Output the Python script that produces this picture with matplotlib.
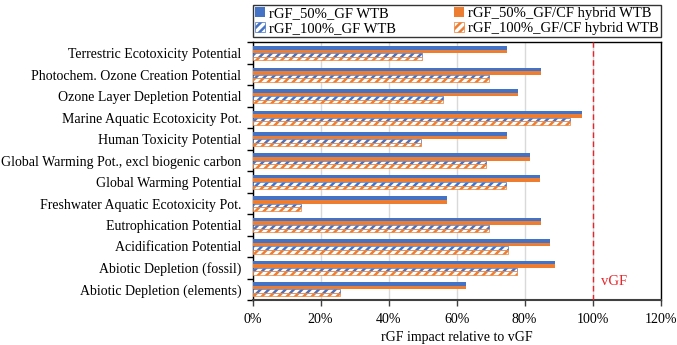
import numpy as np
import matplotlib.pyplot as plt

# impact categories, top to bottom as in the chart
categories = [
    'Terrestric Ecotoxicity Potential',
    'Photochem. Ozone Creation Potential',
    'Ozone Layer Depletion Potential',
    'Marine Aquatic Ecotoxicity Pot.',
    'Human Toxicity Potential',
    'Global Warming Pot., excl biogenic carbon',
    'Global Warming Potential',
    'Freshwater Aquatic Ecotoxicity Pot.',
    'Eutrophication Potential',
    'Acidification Potential',
    'Abiotic Depletion (fossil)',
    'Abiotic Depletion (elements)',
]

# rGF impact relative to vGF (%)
gf_50 = [74.8, 84.9, 78.0, 96.8, 74.8, 81.5, 84.4, 57.1, 84.9, 87.5, 89.0, 62.8]
hybrid_50 = [74.8, 84.9, 78.0, 96.8, 74.8, 81.5, 84.4, 57.1, 84.9, 87.5, 89.0, 62.8]
gf_100 = [49.8, 69.6, 56.0, 93.4, 49.5, 68.6, 74.6, 14.3, 69.6, 75.1, 77.8, 25.7]
hybrid_100 = [49.8, 69.6, 56.0, 93.4, 49.5, 68.6, 74.6, 14.3, 69.6, 75.1, 77.8, 25.7]

series_names = ['rGF_50%_GF WTB', 'rGF_50%_GF/CF hybrid WTB',
                'rGF_100%_GF WTB', 'rGF_100%_GF/CF hybrid WTB']

BLUE = '#4472C4'
ORANGE = '#ED7D31'
RED = '#E8252A'

plt.rcParams['font.family'] = ['Liberation Serif', 'DejaVu Serif']
plt.rcParams['hatch.linewidth'] = 1.8

fig = plt.figure(figsize=(6.77, 3.45), dpi=100)
ax = fig.add_axes([0.373, 0.130, 0.603, 0.747])

y = np.arange(len(categories))
h = 0.165
offsets = [-1.5 * h, -0.5 * h, 0.5 * h, 1.5 * h]

b1 = ax.barh(y + offsets[0], np.array(gf_50) / 100, height=h, color=BLUE,
             label=series_names[0], zorder=3)
b2 = ax.barh(y + offsets[1], np.array(hybrid_50) / 100, height=h, color=ORANGE,
             label=series_names[1], zorder=3)
b3 = ax.barh(y + offsets[2], np.array(gf_100) / 100, height=h, facecolor='white',
             edgecolor=BLUE, hatch='////', linewidth=0.5,
             label=series_names[2], zorder=3)
b4 = ax.barh(y + offsets[3], np.array(hybrid_100) / 100, height=h, facecolor='white',
             edgecolor=ORANGE, hatch='////', linewidth=0.5,
             label=series_names[3], zorder=3)

# vGF reference line
ax.axvline(1.0, color=RED, linestyle=(0, (4, 2.5)), linewidth=1.0, zorder=4)
ax.text(1.025, 10.65, 'vGF', color=RED, fontsize=10.5, va='center', ha='left')

ax.set_xlim(0, 1.2)
ax.set_ylim(len(categories) - 0.5, -0.5)
ax.set_xticks(np.arange(0, 1.21, 0.2))
ax.set_xticklabels([f'{int(round(v * 100))}%' for v in np.arange(0, 1.21, 0.2)])
ax.set_yticks(y)
ax.set_yticklabels(categories)
ax.set_yticks(np.arange(-0.5, len(categories), 1), minor=True)
ax.tick_params(axis='y', which='major', length=0, pad=8, labelsize=10)
ax.tick_params(axis='y', which='minor', length=4, width=1, direction='out')
ax.tick_params(axis='x', length=4, width=1, direction='out', labelsize=10, pad=5,
               color='#404040')
ax.xaxis.grid(True, color='#D9D9D9', linewidth=1.0, zorder=0)
ax.set_axisbelow(True)

for side in ['top', 'left', 'right']:
    ax.spines[side].set_color('black')
    ax.spines[side].set_linewidth(1.0)
ax.spines['bottom'].set_color('#404040')
ax.spines['bottom'].set_linewidth(1.5)

ax.set_xlabel('rGF impact relative to vGF', fontsize=10, labelpad=4)

# legend fills row by row like the original
leg = ax.legend(handles=[b1, b3, b2, b4], ncol=2, loc='lower left',
                bbox_to_anchor=(0, 1.02, 1, 0.12), mode='expand',
                fontsize=10.5, frameon=True, fancybox=False, borderaxespad=0,
                handlelength=0.7, handleheight=0.7, handletextpad=0.25,
                labelspacing=0.12, borderpad=0.15, columnspacing=2.5)
leg.get_frame().set_edgecolor('black')
leg.get_frame().set_linewidth(1.0)

fig.savefig('out.png', dpi=100)
